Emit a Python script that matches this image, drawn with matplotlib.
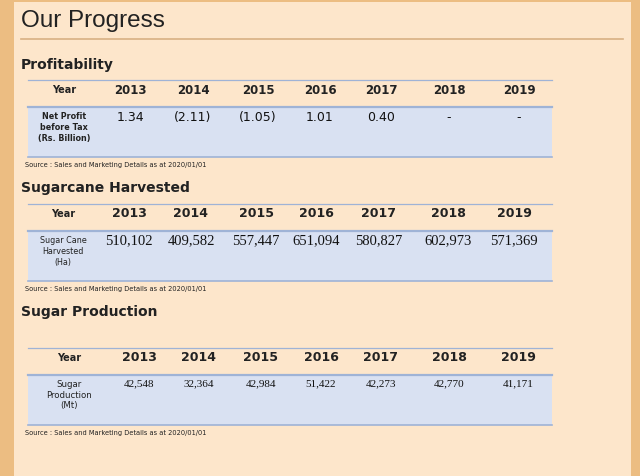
import matplotlib.pyplot as plt
from matplotlib.patches import Rectangle

years = ['2013', '2014', '2015', '2016', '2017', '2018', '2019']

profit_label = 'Net Profit\nbefore Tax\n(Rs. Billion)'
profit_values = ['1.34', '(2.11)', '(1.05)', '1.01', '0.40', '-', '-']

cane_label = 'Sugar Cane\nHarvested\n(Ha)'
cane_values = ['510,102', '409,582', '557,447', '651,094', '580,827', '602,973', '571,369']

sugar_label = 'Sugar\nProduction\n(Mt)'
sugar_values = ['42,548', '32,364', '42,984', '51,422', '42,273', '42,770', '41,171']

source_text = 'Source : Sales and Marketing Details as at 2020/01/01'

BORDER = '#ecbd82'
PANEL = '#fde6cb'
BLUE = '#d9e1f2'
LINE = '#9fb3d6'
TEXT = '#222222'

fig = plt.figure(figsize=(6.4, 4.77), dpi=100)
fig.patch.set_facecolor(BORDER)
ax = fig.add_axes([0, 0, 1, 1])
ax.set_xlim(0, 640)
ax.set_ylim(477, 0)
ax.axis('off')

# panel
ax.add_patch(Rectangle((14, 3), 617, 480, facecolor=PANEL, edgecolor='none'))
ax.text(21, 21, 'Our Progress', fontsize=17.5, family='Liberation Sans',
        color='#222222', va='center', ha='left')
ax.plot([21, 623], [40, 40], color='#d8b083', lw=1.2)


def draw_table(heading, head_y, top_y, label, values, col_x, val_font, val_size, val_dy,
               year_size=8.5, label_size=5.8):
    ax.text(21, head_y, heading, fontsize=10, weight='heavy', family='DejaVu Sans',
            color=TEXT, va='center', ha='left')
    x0, x1 = 28, 552
    ax.plot([x0, x1], [top_y, top_y], color=LINE, lw=0.9)
    hy = top_y + 9
    ax.text(col_x[0], hy, 'Year', fontsize=7, weight='bold', family='DejaVu Sans',
            color=TEXT, ha='center', va='center')
    for x, yr in zip(col_x[1:], years):
        ax.text(x, hy, yr, fontsize=year_size, weight='bold', family='DejaVu Sans',
                color=TEXT, ha='center', va='center')
    rt = top_y + 27
    ax.add_patch(Rectangle((x0, rt), x1 - x0, 50, facecolor=BLUE, edgecolor='none'))
    ax.plot([x0, x1], [rt, rt], color=LINE, lw=1.6)
    ax.plot([x0, x1], [rt + 50, rt + 50], color=LINE, lw=1.2)
    ax.text(col_x[0], rt + 4, label, fontsize=label_size, family='DejaVu Sans', color=TEXT,
            ha='center', va='top', linespacing=1.25,
            weight='bold' if label == profit_label else 'normal')
    for x, v in zip(col_x[1:], values):
        ax.text(x, rt + val_dy, v, fontsize=val_size, family=val_font, color='#111111',
                ha='center', va='center')
    ax.text(25, rt + 57, source_text, fontsize=4.8, family='DejaVu Sans',
            color=TEXT, ha='left', va='center')


draw_table('Profitability', 65, 81, profit_label, profit_values,
           [64, 130, 193, 258, 320, 381, 449, 519], 'DejaVu Sans', 9, 9.5)
draw_table('Sugarcane Harvested', 188, 205, cane_label, cane_values,
           [63, 129, 191, 256, 316, 379, 448, 514], 'Liberation Serif', 10.5, 9,
           year_size=9)
draw_table('Sugar Production', 312, 349, sugar_label, sugar_values,
           [69, 139, 199, 261, 321, 381, 449, 518], 'Liberation Serif', 8, 8,
           year_size=9, label_size=6.2)

fig.savefig('out.png', dpi=100, facecolor=BORDER)
